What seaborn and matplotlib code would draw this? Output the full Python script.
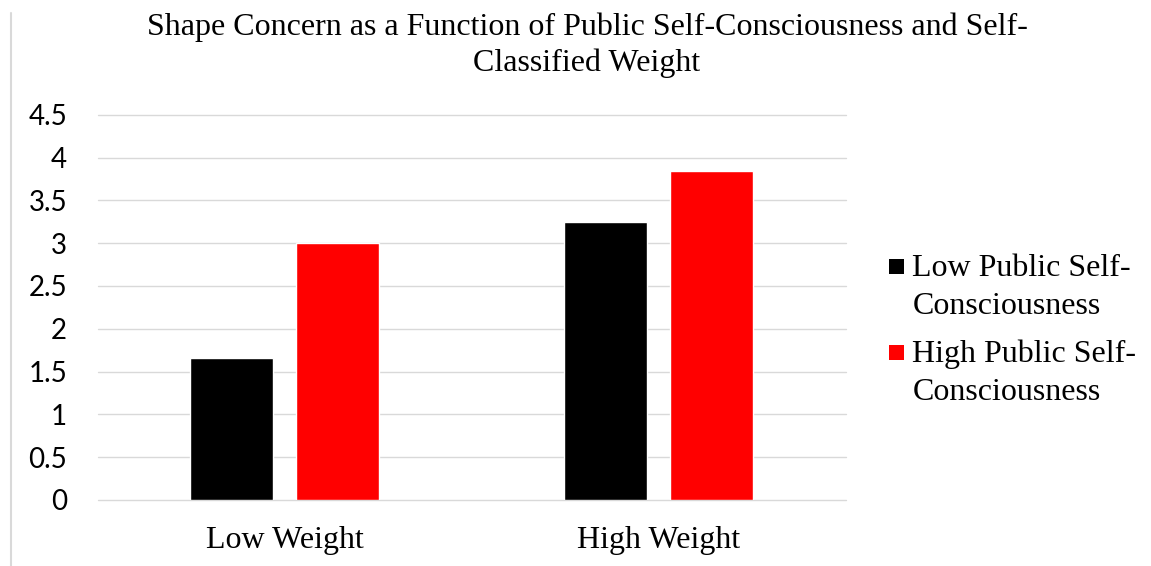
import matplotlib
matplotlib.use("Agg")
import matplotlib.pyplot as plt
from matplotlib.lines import Line2D
from matplotlib.patches import Rectangle
import pandas as pd
import seaborn as sns

# Chart data
weight_groups = ["Low Weight", "High Weight"]
consciousness_levels = ["Low Public Self-Consciousness", "High Public Self-Consciousness"]
low_consciousness_scores = [1.66, 3.25]
high_consciousness_scores = [3.00, 3.84]
y_ticks = [0, 0.5, 1, 1.5, 2, 2.5, 3, 3.5, 4, 4.5]
y_tick_labels = ["0", "0.5", "1", "1.5", "2", "2.5", "3", "3.5", "4", "4.5"]
legend_lines = [["Low Public Self-", "Consciousness"], ["High Public Self-", "Consciousness"]]
title_lines = ["Shape Concern as a Function of Public Self-Consciousness and Self-",
               "Classified Weight"]
bar_colors = ["#000000", "#ff0000"]

df = pd.DataFrame({
    "weight": weight_groups * 2,
    "level": [consciousness_levels[0]] * 2 + [consciousness_levels[1]] * 2,
    "score": low_consciousness_scores + high_consciousness_scores,
})

sns.set_theme(style="white")
serif = ["Liberation Serif", "DejaVu Serif"]
sans = ["Lato", "DejaVu Sans"]

W, H = 1151, 566
fig = plt.figure(figsize=(W / 100, H / 100), dpi=100)
ax = fig.add_axes([97.7 / W, 1 - 500 / H, (845.7 - 97.7) / W, (500 - 114.7) / H])

sns.barplot(data=df, x="weight", y="score", hue="level", order=weight_groups,
            hue_order=consciousness_levels, palette=bar_colors, width=0.569,
            gap=0.22, saturation=1, legend=False, ax=ax, zorder=3)

ax.set_xlim(-0.5, 1.5)
ax.set_ylim(0, 4.5)
ax.set_yticks(y_ticks)
ax.set_yticklabels(y_tick_labels, fontfamily=sans, fontsize=20, color="#000000")
ax.set_xticks(range(len(weight_groups)))
ax.set_xticklabels(weight_groups, fontfamily=serif, fontsize=23, color="#000000")
ax.tick_params(axis="y", length=0, pad=22)
ax.tick_params(axis="x", length=0, pad=19)
ax.set_xlabel("")
ax.set_ylabel("")
for s in ax.spines.values():
    s.set_visible(False)
ax.set_axisbelow(True)
ax.yaxis.grid(True, color="#d9d9d9", linewidth=1.0)
ax.xaxis.grid(False)
for gl in ax.yaxis.get_gridlines():
    gl.set_clip_on(False)

# Title, two centred lines
fig.text(587 / W, 1 - 35 / H, title_lines[0], ha="center", va="baseline",
         fontfamily=serif, fontsize=23, color="#000000")
fig.text(587 / W, 1 - 70.7 / H, title_lines[1], ha="center", va="baseline",
         fontfamily=serif, fontsize=23, color="#000000")

# Legend: colour square beside a two-line label
entry_baselines = [(276, 314), (362, 400)]
square_tops = [259.3, 345]
for color, lines, (b1, b2), sq in zip(bar_colors, legend_lines, entry_baselines, square_tops):
    fig.patches.append(Rectangle((889.3 / W, 1 - (sq + 15) / H), 15 / W, 15 / H,
                                 transform=fig.transFigure, facecolor=color,
                                 edgecolor="none"))
    fig.text(912.3 / W, 1 - b1 / H, lines[0], ha="left", va="baseline",
             fontfamily=serif, fontsize=23, color="#000000")
    fig.text(912.3 / W, 1 - b2 / H, lines[1], ha="left", va="baseline",
             fontfamily=serif, fontsize=23, color="#000000")

# Thin border on the left of the chart area
fig.add_artist(Line2D([11 / W, 11 / W], [0, 1 - 13 / H], transform=fig.transFigure,
                      color="#d9d9d9", linewidth=1.5))

fig.savefig("out.png", dpi=100, facecolor="white")
